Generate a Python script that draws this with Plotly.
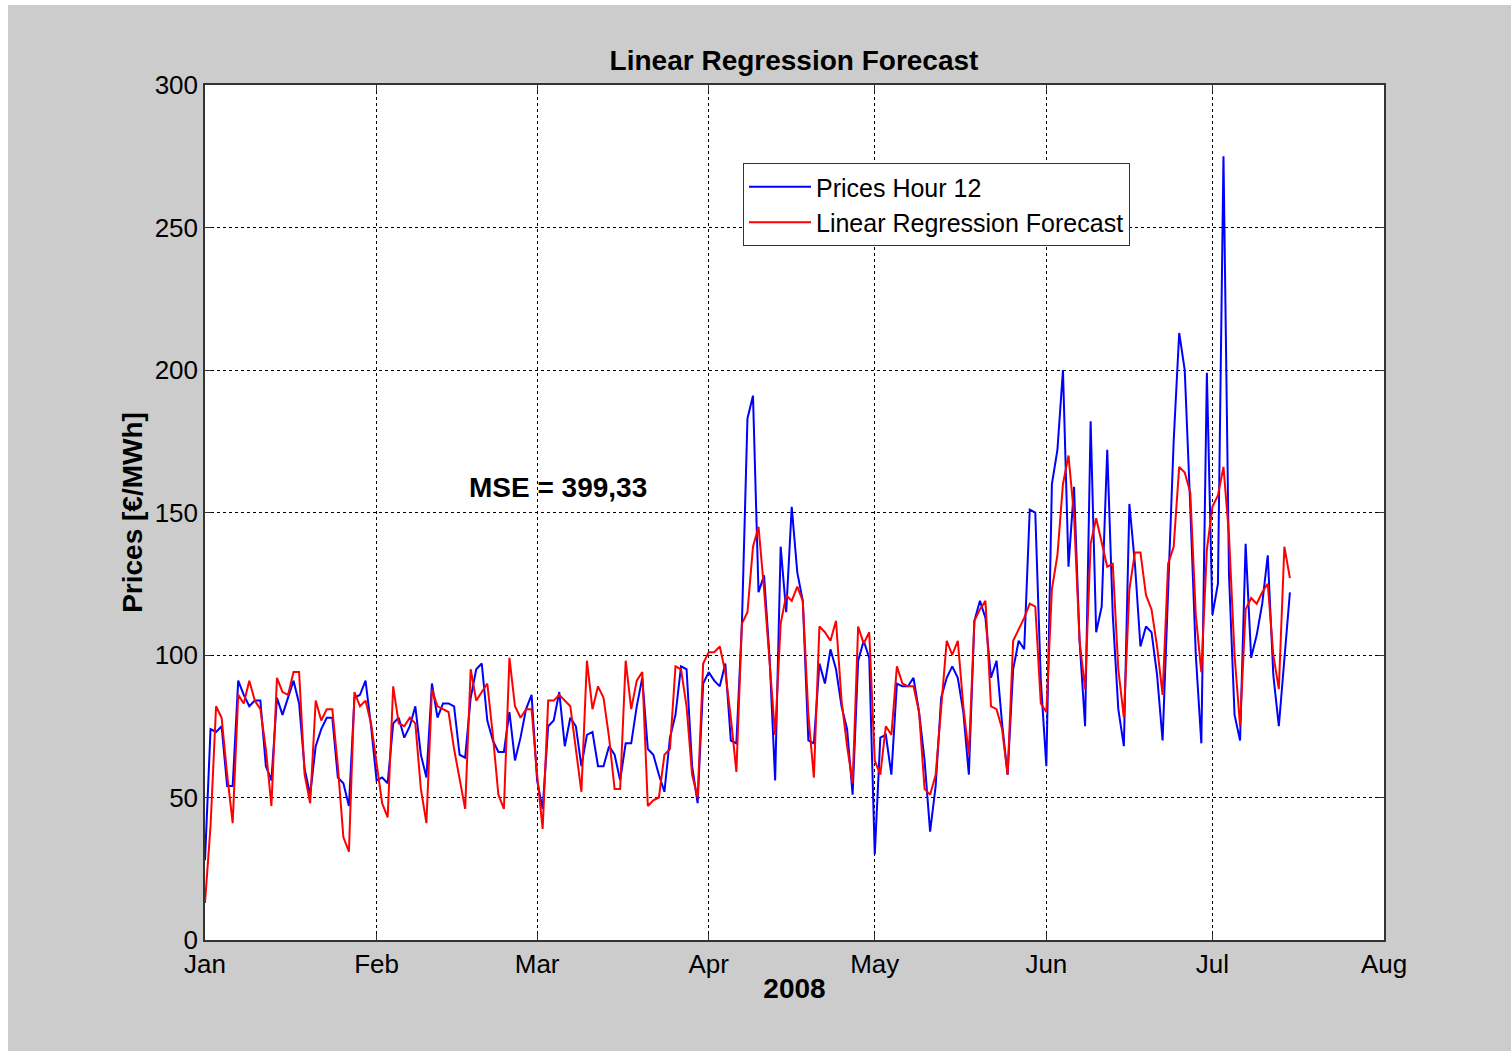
import pandas as pd
import plotly.graph_objects as go

start_date = "2008-01-01"

prices_hour12 = [
    28, 74, 73, 75, 54, 54, 91, 86, 82, 84, 84, 61, 56, 85, 79, 85, 91, 83, 60, 51,
    68, 74, 78, 78, 57, 55, 47, 85, 86, 91, 75, 56, 57, 55, 76, 78, 71, 75, 82, 65,
    57, 90, 78, 83, 83, 82, 65, 64, 85, 95, 97, 77, 70, 66, 66, 80, 63, 71, 81, 86,
    56, 46, 75, 77, 87, 68, 78, 75, 61, 72, 73, 61, 61, 68, 65, 56, 69, 69, 82, 92,
    67, 65, 58, 52, 71, 79, 96, 95, 61, 48, 90, 94, 91, 89, 97, 70, 69, 111, 183, 191,
    122, 128, 99, 56, 138, 115, 152, 129, 119, 70, 69, 97, 90, 102, 95, 82, 74, 51, 98, 105,
    99, 30, 71, 72, 58, 90, 89, 89, 92, 80, 63, 38, 54, 85, 92, 96, 92, 80, 58, 112,
    119, 113, 92, 98, 76, 58, 95, 105, 102, 151, 150, 91, 61, 160, 172, 200, 131, 159, 105, 75,
    182, 108, 117, 172, 114, 81, 68, 153, 132, 103, 110, 108, 93, 70, 120, 175, 213, 200, 152, 100,
    69, 199, 114, 125, 275, 128, 79, 70, 139, 99, 107, 118, 135, 93, 75, 100, 122,
]

lr_forecast = [
    13, 40, 82, 78, 58, 41, 86, 83, 91, 84, 81, 67, 47, 92, 87, 86, 94, 94, 58, 48,
    84, 77, 81, 81, 61, 36, 31, 87, 82, 84, 76, 62, 48, 43, 89, 76, 75, 78, 76, 53,
    41, 88, 82, 81, 80, 67, 56, 46, 95, 84, 87, 90, 72, 51, 46, 99, 82, 78, 81, 81,
    58, 39, 84, 84, 86, 84, 82, 67, 52, 98, 81, 89, 85, 71, 53, 53, 98, 81, 91, 94,
    47, 49, 50, 65, 67, 96, 95, 82, 58, 50, 97, 101, 101, 103, 94, 78, 59, 111, 115, 138,
    145, 123, 99, 72, 111, 121, 119, 124, 119, 79, 57, 110, 108, 105, 112, 84, 68, 55, 110, 104,
    108, 63, 58, 75, 72, 96, 90, 89, 89, 80, 53, 51, 58, 80, 105, 100, 105, 82, 65, 112,
    116, 119, 82, 81, 74, 58, 105, 109, 113, 118, 117, 83, 80, 123, 135, 160, 170, 149, 105, 88,
    139, 148, 139, 131, 132, 95, 78, 123, 136, 136, 121, 116, 103, 86, 132, 138, 166, 164, 157, 114,
    94, 137, 152, 156, 166, 142, 100, 75, 116, 120, 118, 122, 125, 100, 88, 138, 127,
]

month_ticks = ["2008-01-01", "2008-02-01", "2008-03-01", "2008-04-01",
               "2008-05-01", "2008-06-01", "2008-07-01", "2008-08-01"]
month_labels = ["Jan", "Feb", "Mar", "Apr", "May", "Jun", "Jul", "Aug"]
y_ticks = [0, 50, 100, 150, 200, 250, 300]

dates = pd.date_range(start_date, periods=len(prices_hour12), freq="D")

fig = go.Figure()
fig.add_trace(go.Scatter(x=dates, y=prices_hour12, mode="lines",
                         name="Prices Hour 12",
                         line=dict(color="#0000ff", width=2)))
fig.add_trace(go.Scatter(x=dates, y=lr_forecast, mode="lines",
                         name="Linear Regression Forecast",
                         line=dict(color="#ff0000", width=2)))

font_family = "Liberation Sans, Arial, sans-serif"

fig.update_layout(
    width=1511, height=1051,
    margin=dict(l=205, r=127, t=85, b=111),
    paper_bgcolor="#cccccc",
    plot_bgcolor="#ffffff",
    font=dict(family=font_family, size=26, color="#000000"),
    title=dict(text="<b>Linear Regression Forecast</b>", x=0.5255, xanchor="center",
               y=1 - 60 / 1051, yanchor="middle",
               font=dict(size=28, family=font_family, color="#000000")),
    showlegend=True,
    legend=dict(x=(743 - 205) / 1179, y=(940 - 163) / 855, xanchor="left", yanchor="top",
                bgcolor="#ffffff", bordercolor="#333333", borderwidth=1,
                font=dict(size=25, family=font_family),
                tracegroupgap=0, itemwidth=62),
    xaxis=dict(
        type="date",
        range=["2008-01-01", "2008-08-01"],
        tickvals=month_ticks, ticktext=month_labels,
        ticks="inside", ticklen=6, tickcolor="#333333",
        showline=True, linecolor="#333333", linewidth=1.5, mirror="ticks",
        showgrid=True, gridcolor="#000000", gridwidth=1, griddash="dot",
        zeroline=False,
        title=dict(text="<b>2008</b>", font=dict(size=28, family=font_family), standoff=0),
        tickfont=dict(size=26),
    ),
    yaxis=dict(
        range=[0, 300],
        tickvals=y_ticks,
        ticks="inside", ticklen=6, tickcolor="#333333",
        showline=True, linecolor="#333333", linewidth=1.5, mirror="ticks",
        showgrid=True, gridcolor="#000000", gridwidth=1, griddash="dot",
        zeroline=False,
        title=dict(text="<b>Prices [€/MWh]</b>", font=dict(size=28, family=font_family), standoff=4),
        tickfont=dict(size=26),
    ),
)

fig.add_annotation(x="2008-02-17 06:00", y=158.6, xref="x", yref="y",
                   text="<b>MSE = 399,33</b>", showarrow=False,
                   xanchor="left", yanchor="middle",
                   font=dict(size=28, family=font_family, color="#000000"))

# white outer strips (left and top edges of the picture)
fig.add_shape(type="rect", xref="paper", yref="paper",
              x0=-205 / 1179, x1=-197 / 1179, y0=-111 / 855, y1=940 / 855,
              fillcolor="#ffffff", line=dict(width=0), layer="below")
fig.add_shape(type="rect", xref="paper", yref="paper",
              x0=-205 / 1179, x1=1306 / 1179, y0=935 / 855, y1=940 / 855,
              fillcolor="#ffffff", line=dict(width=0), layer="below")

fig.write_html("out.html")
